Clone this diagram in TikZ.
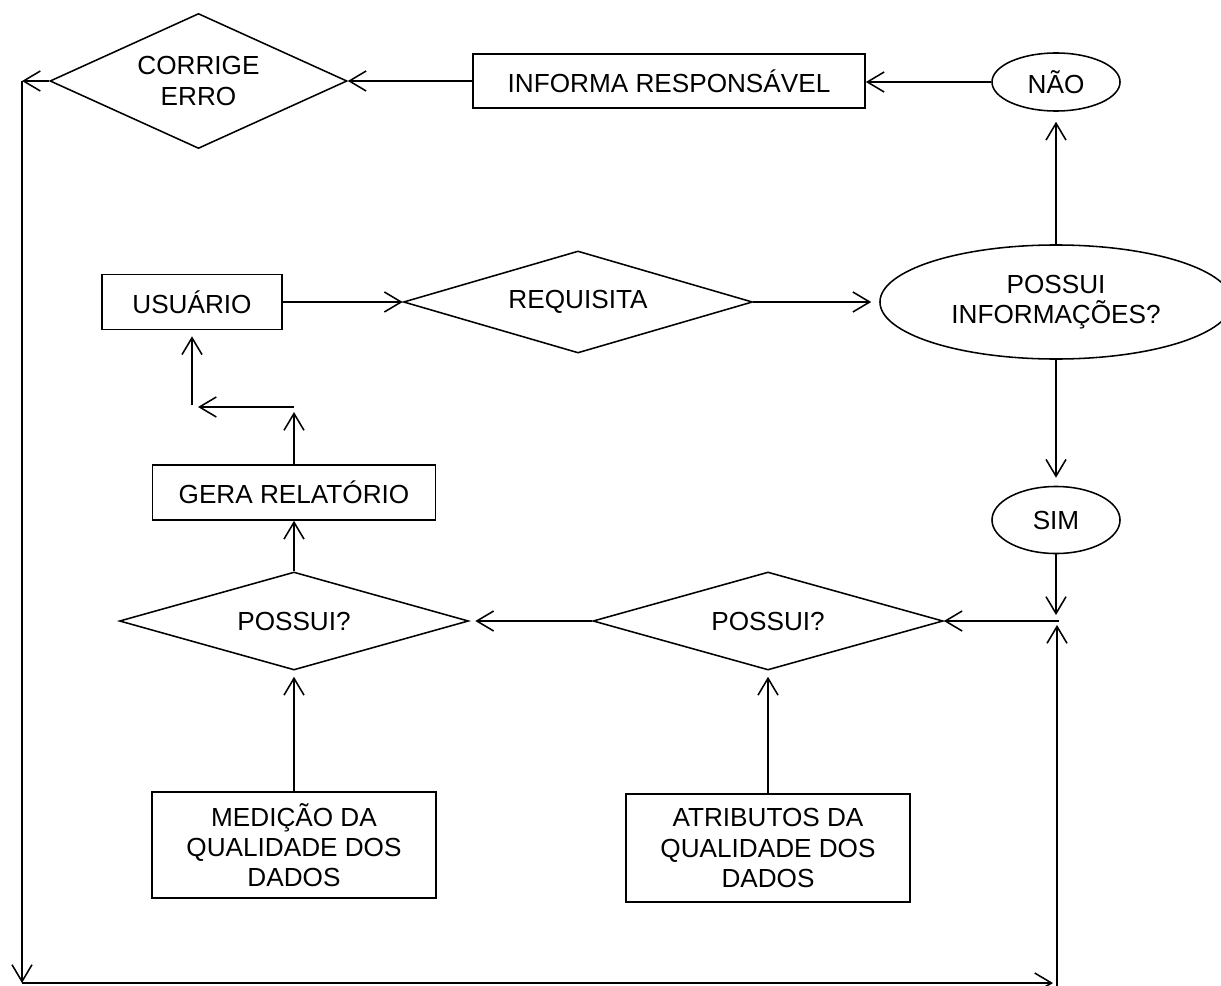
\documentclass[tikz,border=0pt]{standalone}
\usepackage{fontspec}
\setmainfont{Liberation Sans}
\usetikzlibrary{shapes.geometric,arrows.meta}
\begin{document}
\begin{tikzpicture}[x=0.025cm,y=-0.025cm,
  every node/.style={font=\fontsize{18.6}{21.5}\selectfont, align=center, inner sep=0pt, line width=1.1pt},
  boxn/.style={draw, rectangle},
  dia/.style={draw, diamond, aspect=3},
  ell/.style={draw, ellipse},
  conn/.style={line width=1.1pt, -{Straight Barb[length=0.42cm,width=0.5cm,line width=1.1pt]}}
]
\useasboundingbox (0,0) rectangle (1221,985);
% nodes
\node[dia, minimum width=7.425cm, minimum height=3.375cm] (corrige) at (198.5,81) {CORRIGE\\ERRO};
\node[boxn, minimum width=9.8cm, minimum height=1.35cm] (informa) at (669,81) {INFORMA RESPONSÁVEL};
\node[ell, minimum width=3.2cm, minimum height=1.45cm] (nao) at (1056,82) {NÃO};
\node[ell, minimum width=8.8cm, minimum height=2.85cm] (possinfo) at (1056,302) {POSSUI\\INFORMAÇÕES?};
\node[dia, minimum width=8.725cm, minimum height=2.55cm] (requisita) at (578,302) {REQUISITA};
\node[boxn, minimum width=4.5cm, minimum height=1.375cm] (usuario) at (192,302) {USUÁRIO};
\node[boxn, minimum width=7.075cm, minimum height=1.375cm] (gera) at (294,492.5) {GERA RELATÓRIO};
\node[ell, minimum width=3.2cm, minimum height=1.675cm] (sim) at (1056,520) {SIM};
\node[dia, minimum width=8.725cm, minimum height=2.45cm] (possA) at (294,621) {POSSUI?};
\node[dia, minimum width=8.75cm, minimum height=2.45cm] (possB) at (768,621) {POSSUI?};
\node[boxn, minimum width=7.1cm, minimum height=2.65cm] (medicao) at (294,845) {MEDIÇÃO DA\\QUALIDADE DOS\\DADOS};
\node[boxn, minimum width=7.1cm, minimum height=2.7cm] (atrib) at (768,848) {ATRIBUTOS DA\\QUALIDADE DOS\\DADOS};
% coordinates for free ends
\coordinate (tl) at (22,81);
\coordinate (bl) at (22,983);
\coordinate (br) at (1053,983);
\coordinate (rb) at (1057,990);
\coordinate (rt) at (1057,625);
\coordinate (jr) at (1059,621);
\coordinate (js) at (1056,615);
\coordinate (g1) at (294,412);
\coordinate (g2) at (294,407);
\coordinate (g3) at (198,407);
\coordinate (g4) at (192,405);
% connectors
\draw[conn] (nao.west) -- (informa.east |- nao.west);
\draw[conn] (informa.west) -- (corrige.east);
\draw[conn] (corrige.west) -- (tl);
\draw[conn] (tl) -- (bl);
\draw[conn] (bl) -- (br);
\draw[conn] (rb) -- (rt);
\draw[conn] (jr) -- (possB.east);
\draw[conn] (sim.south) -- (js);
\draw[conn, shorten >=0.2cm] (possinfo.south) -- (sim.north);
\draw[conn, shorten >=0.25cm] (possinfo.north) -- (nao.south);
\draw[conn] (usuario.east) -- (requisita.west);
\draw[conn, shorten >=0.2cm] (requisita.east) -- (possinfo.west);
\draw[conn, shorten >=0.15cm] (possB.west) -- (possA.east);
\draw[conn] (possA.north) -- (gera.south);
\draw[conn] (gera.north) -- (g1);
\draw[conn] (g2) -- (g3);
\draw[conn, shorten >=0.15cm] (g4) -- (usuario.south);
\draw[conn, shorten >=0.15cm] (medicao.north) -- (possA.south);
\draw[conn, shorten >=0.15cm] (atrib.north) -- (possB.south);
\end{tikzpicture}
\end{document}
